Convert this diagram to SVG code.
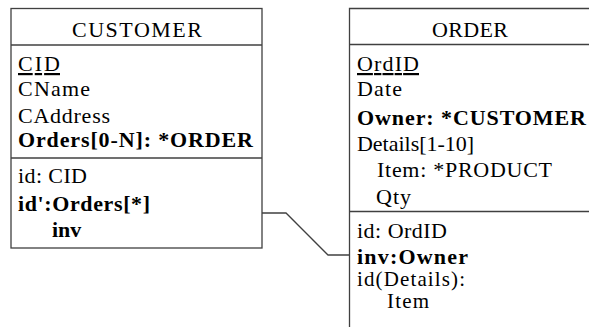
<svg xmlns="http://www.w3.org/2000/svg" width="589" height="327" viewBox="0 0 589 327">
<style>
.box{fill:#fff;stroke:#404040;stroke-width:1.3}
.ln{stroke:#404040;stroke-width:1.3;fill:none}
.f{font-family:'Liberation Serif','DejaVu Serif',serif;font-size:22px}
.b{font-weight:bold}
.h{text-anchor:middle}
.u{text-decoration:underline}
</style>
<rect width="589" height="327" fill="#fff"/>
<g id="customer" class="f">
<rect class="box" x="11" y="8.5" width="251" height="239.5"/>
<line class="ln" x1="11" y1="45" x2="262" y2="45"/>
<line class="ln" x1="11" y1="158" x2="262" y2="158"/>
<text class="h" x="137" y="37" textLength="130" lengthAdjust="spacing">CUSTOMER</text>
<text class="u" x="18" y="71" textLength="42" lengthAdjust="spacing">CID</text>
<text x="18" y="96" textLength="72" lengthAdjust="spacing">CName</text>
<text x="18" y="123" textLength="92" lengthAdjust="spacing">CAddress</text>
<text class="b" x="18" y="147" textLength="235" lengthAdjust="spacing">Orders[0-N]: *ORDER</text>
<text x="18" y="183" textLength="69" lengthAdjust="spacing">id: CID</text>
<text class="b" x="18" y="211" textLength="132" lengthAdjust="spacing">id':Orders[*]</text>
<text class="b" x="52" y="237">inv</text>
</g>
<g id="order" class="f">
<path class="ln" d="M349.5,327 V8.5 H592"/>
<line class="ln" x1="349.5" y1="44.5" x2="592" y2="44.5"/>
<line class="ln" x1="349.5" y1="211.5" x2="592" y2="211.5"/>
<text class="h" x="470" y="37" textLength="76" lengthAdjust="spacing">ORDER</text>
<text class="u" x="357" y="71" textLength="62" lengthAdjust="spacing">OrdID</text>
<text x="357" y="96" textLength="45" lengthAdjust="spacing">Date</text>
<text class="b" x="357" y="125" textLength="229" lengthAdjust="spacing">Owner: *CUSTOMER</text>
<text x="357" y="151" textLength="117" lengthAdjust="spacing">Details[1-10]</text>
<text x="377" y="177" textLength="175" lengthAdjust="spacing">Item: *PRODUCT</text>
<text x="376" y="204" textLength="35" lengthAdjust="spacing">Qty</text>
<text x="357" y="238" textLength="90" lengthAdjust="spacing">id: OrdID</text>
<text class="b" x="357" y="264" textLength="111" lengthAdjust="spacing">inv:Owner</text>
<text x="357" y="286" font-size="21" textLength="108" lengthAdjust="spacing">id(Details):</text>
<text x="387" y="308" font-size="21" textLength="42" lengthAdjust="spacing">Item</text>
</g>
<g id="connectors">
<path class="ln" d="M262,213 H286 L328,255 H349.5"/>
</g>
</svg>
